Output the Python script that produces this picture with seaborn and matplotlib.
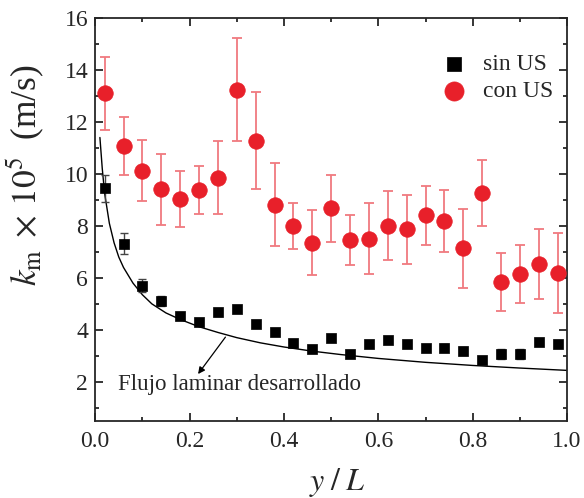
import numpy as np
import pandas as pd
import matplotlib
matplotlib.use("Agg")
import matplotlib.pyplot as plt
import seaborn as sns

# ---- data ----
y_over_L = [0.02, 0.06, 0.10, 0.14, 0.18, 0.22, 0.26, 0.30, 0.34, 0.38, 0.42, 0.46,
            0.50, 0.54, 0.58, 0.62, 0.66, 0.70, 0.74, 0.78, 0.82, 0.86, 0.90, 0.94, 0.98]

sin_us = [9.45, 7.31, 5.69, 5.10, 4.52, 4.30, 4.67, 4.82, 4.24, 3.90, 3.51, 3.27,
          3.67, 3.08, 3.44, 3.62, 3.44, 3.30, 3.32, 3.20, 2.83, 3.06, 3.08, 3.54, 3.45]
sin_us_err = [0.52, 0.41, 0.25, 0.20, 0.12, 0.12, 0.14, 0.10, 0.06, 0.06, 0.06, 0.08,
              0.06, 0.08, 0.10, 0.10, 0.08, 0.08, 0.15, 0.15, 0.10, 0.20, 0.20, 0.12, 0.10]

con_us = [13.10, 11.06, 10.12, 9.40, 9.05, 9.38, 9.86, 13.23, 11.28, 8.82, 8.00, 7.36,
          8.67, 7.45, 7.50, 8.01, 7.87, 8.40, 8.19, 7.13, 9.26, 5.85, 6.14, 6.54, 6.19]
con_us_err = [1.41, 1.11, 1.17, 1.36, 1.08, 0.94, 1.40, 1.98, 1.86, 1.58, 0.89, 1.26,
              1.30, 0.95, 1.37, 1.32, 1.33, 1.12, 1.19, 1.51, 1.26, 1.12, 1.12, 1.34, 1.54]

laminar_x = [0.01, 0.015, 0.02, 0.03, 0.04, 0.05, 0.06, 0.08, 0.10, 0.12, 0.15, 0.18,
             0.22, 0.26, 0.30, 0.35, 0.40, 0.46, 0.52, 0.60, 0.70, 0.80, 0.90, 1.00]
laminar_k = [11.40, 10.20, 9.25, 8.10, 7.35, 6.80, 6.40, 5.80, 5.35, 5.00, 4.65, 4.40,
             4.12, 3.90, 3.70, 3.50, 3.34, 3.18, 3.05, 2.90, 2.75, 2.63, 2.53, 2.44]

x_ticks = [0.0, 0.2, 0.4, 0.6, 0.8, 1.0]
x_tick_labels = ["0.0", "0.2", "0.4", "0.6", "0.8", "1.0"]
y_ticks = [2, 4, 6, 8, 10, 12, 14, 16]

df_sin = pd.DataFrame({"x": y_over_L, "k": sin_us, "err": sin_us_err})
df_con = pd.DataFrame({"x": y_over_L, "k": con_us, "err": con_us_err})
df_lam = pd.DataFrame({"x": laminar_x, "k": laminar_k})

# ---- style ----
sns.set_style("ticks")
plt.rcParams["font.family"] = ["Liberation Serif", "DejaVu Serif"]
plt.rcParams["mathtext.fontset"] = "stix"

fig = plt.figure(figsize=(5.84, 4.98), dpi=100)
ax = fig.add_axes([0.163, 0.155, 0.808, 0.809])

red = "#e8202a"
sns.lineplot(data=df_lam, x="x", y="k", ax=ax, color="black", lw=1.0, legend=False)

ax.errorbar(df_sin["x"], df_sin["k"], yerr=df_sin["err"], fmt="none",
            ecolor="#444444", elinewidth=1.0, capsize=3, capthick=1.0, zorder=3)
ax.errorbar(df_con["x"], df_con["k"], yerr=df_con["err"], fmt="none",
            ecolor="#f07a7f", elinewidth=1.3, capsize=3.5, capthick=1.3, zorder=3)

sns.scatterplot(data=df_sin, x="x", y="k", ax=ax, marker="s", s=55, color="black",
                edgecolor="black", linewidth=0.5, zorder=4, label="sin US")
sns.scatterplot(data=df_con, x="x", y="k", ax=ax, marker="o", s=125, color=red,
                edgecolor=red, linewidth=0.5, zorder=4, label="con US")

ax.set_xlim(0, 1.0)
ax.set_ylim(0.5, 16)
ax.set_xticks(x_ticks)
ax.set_xticklabels(x_tick_labels)
ax.set_xticks(np.arange(0.1, 1.0, 0.2), minor=True)
ax.set_yticks(y_ticks)
ax.set_yticks(np.arange(1, 16, 2), minor=True)

ax.tick_params(which="both", direction="in", top=True, right=True, width=1.3)
ax.tick_params(which="major", length=5.5, labelsize=17)
ax.tick_params(which="minor", length=3.2)
ax.tick_params(axis="x", which="major", pad=7)
ax.tick_params(axis="y", which="major", pad=5)
for s in ax.spines.values():
    s.set_linewidth(1.3)

ax.set_xlabel(r"$y\;/\;L$", fontsize=23)
ax.xaxis.set_label_coords(0.513, -0.113)
ax.set_ylabel(r"$k_{\rm m}\;\times\,10^5\;$ (m/s)", fontsize=25.5)
ax.yaxis.set_label_coords(-0.103, 0.61)

ax.annotate("Flujo laminar desarrollado", xy=(0.219, 2.35), xytext=(0.048, 1.88),
            fontsize=16.5, va="center", ha="left")
ax.annotate("", xy=(0.218, 2.30), xytext=(0.276, 3.72),
            arrowprops=dict(arrowstyle="-|>", color="black", lw=0.9,
                            mutation_scale=10, shrinkA=0, shrinkB=0))

leg = ax.legend(loc="upper right", bbox_to_anchor=(1.006, 0.953), frameon=False,
                fontsize=17, handletextpad=0.25, labelspacing=0.25, borderaxespad=0.3)
handles = leg.legend_handles
handles[0].set_sizes([110])
handles[1].set_sizes([190])

fig.savefig("out.png", dpi=100)
